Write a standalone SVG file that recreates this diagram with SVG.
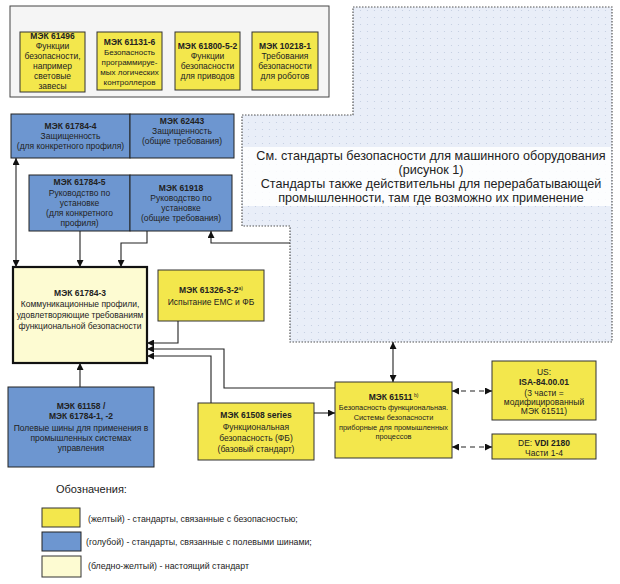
<svg xmlns="http://www.w3.org/2000/svg" width="620" height="584" viewBox="0 0 620 584">
<defs>
<style>
text{font-family:"Liberation Sans",Arial,sans-serif;fill:#222;text-anchor:middle;font-size:8.5px}
.b{font-weight:bold}
.y{fill:#f3e74c;stroke:#333;stroke-width:1}
.bl{fill:#6d96d0;stroke:#222;stroke-width:1}
.c{fill:none;stroke:#222;stroke-width:1.1}
.d{fill:none;stroke:#222;stroke-width:1.1;stroke-dasharray:5,4}
.lg{text-anchor:start;font-size:8.8px}
.big{font-size:12.6px}
.sm{font-size:7.4px}
.s8{font-size:8px}
</style>
<marker id="ah" viewBox="0 0 10 10" refX="10" refY="5" markerWidth="7" markerHeight="7" orient="auto-start-reverse" markerUnits="userSpaceOnUse"><path d="M0,0 L10,5 L0,10 Z" fill="#111"/></marker>
<pattern id="dots" width="7" height="7" patternUnits="userSpaceOnUse"><rect width="7" height="7" fill="#e9eef8"/><circle cx="3.5" cy="3.5" r="0.6" fill="#c2cde0"/></pattern>
</defs>
<rect width="620" height="584" fill="#fff"/>

<g id="top-group">
<rect x="10" y="6" width="319" height="91" fill="#f5f5f5" stroke="#444" stroke-width="1"/>
</g>
<g id="iec61496">
<rect class="y" x="20" y="32" width="65" height="60"/>
<text x="52.5" y="39" class="b">МЭК 61496</text>
<text x="52.5" y="49">Функции</text>
<text x="52.5" y="59">безопасности,</text>
<text x="52.5" y="69">например</text>
<text x="52.5" y="79">световые</text>
<text x="52.5" y="89">завесы</text>
</g>
<g id="iec61131">
<rect class="y" x="97" y="32" width="65" height="58"/>
<text x="129.5" y="45" class="b">МЭК 61131-6</text>
<text x="129.5" y="55" class="s8">Безопасность</text>
<text x="129.5" y="65" class="s8">программируе-</text>
<text x="129.5" y="75" class="s8">мых логических</text>
<text x="129.5" y="85" class="s8">контроллеров</text>
</g>
<g id="iec61800">
<rect class="y" x="175" y="32" width="65" height="58"/>
<text x="207.5" y="49" class="b">МЭК 61800-5-2</text>
<text x="207.5" y="59">Функции</text>
<text x="207.5" y="69">безопасности</text>
<text x="207.5" y="79">для приводов</text>
</g>
<g id="iec10218">
<rect class="y" x="252" y="32" width="66" height="58"/>
<text x="285" y="49" class="b">МЭК 10218-1</text>
<text x="285" y="59">Требования</text>
<text x="285" y="69">безопасности</text>
<text x="285" y="79">для роботов</text>
</g>

<g id="machinery">
<path d="M353,7 H612 V342 H290 V226 H242 V115 H353 Z" fill="url(#dots)" stroke="#555" stroke-width="1.2" stroke-dasharray="1.5,1.5"/>
<rect x="243" y="147" width="368" height="59" fill="#fff" opacity="0.85"/>
<text x="431" y="160" class="big">См. стандарты безопасности для машинного оборудования</text>
<text x="431" y="174" class="big">(рисунок 1)</text>
<text x="431" y="188" class="big">Стандарты также действительны для перерабатывающей</text>
<text x="431" y="202" class="big">промышленности, там где возможно их применение</text>
</g>

<g id="iec61784-4">
<rect class="bl" x="11" y="114" width="119" height="44"/>
<text x="70.5" y="129" class="b">МЭК 61784-4</text>
<text x="70.5" y="139">Защищенность</text>
<text x="70.5" y="149">(для конкретного профиля)</text>
</g>
<g id="iec62443">
<rect class="bl" x="130" y="114" width="104" height="44"/>
<text x="182" y="124" class="b">МЭК 62443</text>
<text x="182" y="134">Защищенность</text>
<text x="182" y="144">(общие требования)</text>
</g>
<g id="iec61784-5">
<rect class="bl" x="29" y="175" width="101" height="56"/>
<text x="79.5" y="185" class="b">МЭК 61784-5</text>
<text x="79.5" y="196">Руководство по</text>
<text x="79.5" y="206">установке</text>
<text x="79.5" y="216">(для конкретного</text>
<text x="79.5" y="226">профиля)</text>
</g>
<g id="iec61918">
<rect class="bl" x="130" y="175" width="102" height="56"/>
<text x="181" y="191" class="b">МЭК 61918</text>
<text x="181" y="201">Руководство по</text>
<text x="181" y="211">установке</text>
<text x="181" y="221">(общие требования)</text>
</g>

<g id="iec61784-3">
<rect x="13" y="267" width="134" height="96" fill="#fdfbd2" stroke="#111" stroke-width="2.2"/>
<text x="80" y="296" class="b">МЭК 61784-3</text>
<text x="80" y="307">Коммуникационные профили,</text>
<text x="80" y="318">удовлетворяющие требованиям</text>
<text x="80" y="329">функциональной безопасности</text>
</g>
<g id="iec61326">
<rect class="y" x="158" y="270" width="106" height="51"/>
<text x="211" y="293"><tspan class="b">МЭК 61326-3-2</tspan><tspan style="font-size:5px" dy="-3">a)</tspan></text>
<text x="211" y="305">Испытание ЕМС и ФБ</text>
</g>
<g id="iec61158">
<rect class="bl" x="8" y="387" width="146" height="80"/>
<text x="81" y="409" class="b">МЭК 61158 /</text>
<text x="81" y="419" class="b">МЭК 61784-1, -2</text>
<text x="81" y="431">Полевые шины для применения в</text>
<text x="81" y="441">промышленных системах</text>
<text x="81" y="451">управления</text>
</g>
<g id="iec61508">
<rect class="y" x="198" y="403" width="116" height="57"/>
<text x="256" y="418" class="b">МЭК 61508 series</text>
<text x="256" y="430">Функциональная</text>
<text x="256" y="441">безопасность (ФБ)</text>
<text x="256" y="452">(базовый стандарт)</text>
</g>
<g id="iec61511">
<rect class="y" x="335" y="382" width="117" height="76"/>
<text x="393.5" y="400"><tspan class="b">МЭК 61511</tspan><tspan style="font-size:5px" dy="-3"> b)</tspan></text>
<text x="393.5" y="410" class="sm">Безопасность функциональная.</text>
<text x="393.5" y="420" class="sm">Системы безопасности</text>
<text x="393.5" y="430" class="sm">приборные для промышленных</text>
<text x="393.5" y="439" class="sm">процессов</text>
</g>
<g id="isa84">
<rect class="y" x="492" y="361" width="104" height="59"/>
<text x="544" y="375">US:</text>
<text x="544" y="385" class="b">ISA-84.00.01</text>
<text x="544" y="396">(3 части =</text>
<text x="544" y="405">модифицированный</text>
<text x="544" y="414">МЭК 61511)</text>
</g>
<g id="vdi2180">
<rect class="y" x="492" y="434" width="104" height="25"/>
<text x="544" y="446">DE: <tspan class="b">VDI 2180</tspan></text>
<text x="544" y="456">Части 1-4</text>
</g>

<g id="connectors">
<path class="c" d="M16,267 V158" marker-start="url(#ah)" marker-end="url(#ah)"/>
<path class="c" d="M80,231 V267" marker-end="url(#ah)"/>
<path class="c" d="M147,231 V243 H121 V267" marker-end="url(#ah)"/>
<path class="c" d="M290,243 H211 V231" marker-end="url(#ah)"/>
<path class="c" d="M178,321 V343 H147" marker-end="url(#ah)"/>
<path class="c" d="M335,388 H224 V349 H147" marker-end="url(#ah)"/>
<path class="c" d="M211,403 V356 H147" marker-end="url(#ah)"/>
<path class="c" d="M314,413 H335" marker-end="url(#ah)"/>
<path class="c" d="M80,387 V363" marker-end="url(#ah)"/>
<path class="c" d="M393,342 V382" marker-start="url(#ah)" marker-end="url(#ah)"/>
<path class="d" d="M452,391 H492" marker-start="url(#ah)" marker-end="url(#ah)"/>
<path class="d" d="M452,447 H492" marker-start="url(#ah)" marker-end="url(#ah)"/>
</g>

<g id="legend">
<text x="56" y="493" class="lg" style="font-size:11px">Обозначения:</text>
<rect class="y" x="42" y="508" width="38" height="19"/>
<rect class="bl" x="42" y="532" width="39" height="19"/>
<rect x="42" y="556" width="39" height="21" fill="#fdfbd2" stroke="#333" stroke-width="1"/>
<text x="88" y="522" class="lg">(желтый) - стандарты, связанные с безопасностью;</text>
<text x="86" y="545" class="lg">(голубой) - стандарты, связанные с полевыми шинами;</text>
<text x="88" y="569" class="lg">(бледно-желтый) - настоящий стандарт</text>
</g>
</svg>
